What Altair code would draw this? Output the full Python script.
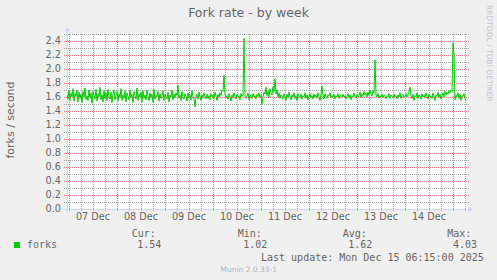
import altair as alt
import pandas as pd

# ---------------- data ----------------
TITLE = "Fork rate - by week"
Y_TITLE = "forks / second"
SIDE_TEXT = "RRDTOOL / TOBI OETIKER"
FOOTER = "Munin 2.0.33-1"
LAST_UPDATE = "Last update: Mon Dec 15 06:15:00 2025"

SERIES = "forks"
STAT_NAMES = ["Cur:", "Min:", "Avg:", "Max:"]
STAT_VALUES = ["1.54", "1.02", "1.62", "4.03"]

DAYS = ["07 Dec", "08 Dec", "09 Dec", "10 Dec", "11 Dec", "12 Dec", "13 Dec", "14 Dec"]
Y_TICKS = [0.0, 0.2, 0.4, 0.6, 0.8, 1.0, 1.2, 1.4, 1.6, 1.8, 2.0, 2.2, 2.4]

# half-hourly samples, first one at 06 Dec 23:00
FORKS = [
    1.63, 1.57, 1.69, 1.55, 1.66, 1.60, 1.72, 1.54, 1.65, 1.61, 1.70, 1.53, 1.67, 1.58, 1.64, 1.52, 1.68, 1.60, 1.73, 1.56,
    1.62, 1.55, 1.70, 1.59, 1.66, 1.51, 1.68, 1.62, 1.57, 1.71, 1.54, 1.65, 1.60, 1.74, 1.56, 1.63, 1.53, 1.69, 1.58, 1.66,
    1.55, 1.71, 1.60, 1.57, 1.67, 1.52, 1.64, 1.70, 1.56, 1.62, 1.68, 1.54, 1.65, 1.59, 1.72, 1.55, 1.63, 1.58, 1.69, 1.53,
    1.66, 1.61, 1.56, 1.70, 1.59, 1.64, 1.52, 1.68, 1.62, 1.57, 1.73, 1.55, 1.64, 1.60, 1.67, 1.53, 1.69, 1.58, 1.63, 1.56,
    1.70, 1.61, 1.55, 1.66, 1.59, 1.64, 1.52, 1.71, 1.57, 1.63, 1.60, 1.68, 1.54, 1.65, 1.58, 1.62, 1.69, 1.55, 1.64, 1.60,
    1.57, 1.67, 1.53, 1.63, 1.60, 1.70, 1.56, 1.64, 1.59, 1.66, 1.62, 1.77, 1.58, 1.63, 1.55, 1.68, 1.60, 1.57, 1.65, 1.61,
    1.54, 1.66, 1.59, 1.63, 1.56, 1.69, 1.60, 1.58, 1.46, 1.62, 1.64, 1.57, 1.67, 1.60, 1.55, 1.63, 1.59, 1.66, 1.61, 1.57,
    1.64, 1.58, 1.62, 1.56, 1.65, 1.60, 1.63, 1.58, 1.67, 1.61, 1.55, 1.64, 1.60, 1.66, 1.62, 1.70, 1.68, 1.91, 1.64, 1.59,
    1.62, 1.57, 1.65, 1.60, 1.54, 1.63, 1.59, 1.66, 1.61, 1.57, 1.64, 1.60, 1.62, 1.56, 1.65, 1.61, 1.63, 2.44, 1.62, 1.58,
    1.60, 1.66, 1.56, 1.63, 1.61, 1.58, 1.65, 1.60, 1.62, 1.57, 1.64, 1.61, 1.66, 1.59, 1.63, 1.49, 1.60, 1.67, 1.64, 1.74,
    1.62, 1.69, 1.59, 1.72, 1.66, 1.63, 1.75, 1.68, 1.86, 1.64, 1.70, 1.60, 1.66, 1.58, 1.63, 1.61, 1.57, 1.65, 1.60, 1.55,
    1.64, 1.59, 1.67, 1.61, 1.56, 1.63, 1.60, 1.66, 1.58, 1.62, 1.55, 1.65, 1.61, 1.59, 1.64, 1.57, 1.62, 1.60, 1.66, 1.58,
    1.63, 1.56, 1.61, 1.65, 1.59, 1.62, 1.57, 1.64, 1.60, 1.63, 1.58, 1.66, 1.61, 1.55, 1.64, 1.76, 1.62, 1.57, 1.65, 1.60,
    1.58, 1.63, 1.61, 1.66, 1.59, 1.62, 1.60, 1.64, 1.57, 1.62, 1.60, 1.65, 1.58, 1.63, 1.61, 1.59, 1.64, 1.60, 1.62, 1.57,
    1.61, 1.65, 1.59, 1.63, 1.56, 1.62, 1.60, 1.66, 1.61, 1.58, 1.64, 1.60, 1.62, 1.67, 1.59, 1.64, 1.61, 1.68, 1.63, 1.66,
    1.60, 1.67, 1.62, 1.70, 1.64, 1.61, 1.69, 1.66, 2.13, 1.63, 1.60, 1.65, 1.58, 1.62, 1.60, 1.64, 1.59, 1.63, 1.61, 1.57,
    1.62, 1.60, 1.65, 1.58, 1.63, 1.61, 1.59, 1.64, 1.60, 1.62, 1.57, 1.63, 1.60, 1.66, 1.58, 1.62, 1.64, 1.59, 1.61, 1.65,
    1.60, 1.63, 1.67, 1.74, 1.62, 1.58, 1.64, 1.55, 1.62, 1.60, 1.66, 1.58, 1.63, 1.61, 1.57, 1.65, 1.60, 1.63, 1.59, 1.66,
    1.61, 1.57, 1.64, 1.60, 1.62, 1.58, 1.66, 1.60, 1.55, 1.63, 1.61, 1.67, 1.59, 1.64, 1.57, 1.62, 1.66, 1.60, 1.68, 1.63,
    1.67, 1.64, 1.69, 1.66, 1.70, 1.68, 2.37, 2.20, 1.56, 1.63, 1.60, 1.66, 1.58, 1.64, 1.55, 1.62, 1.61, 1.65, 1.58, 1.54,
]

# ---------------- styling ----------------
FONT = "DejaVu Sans"
MONO = "DejaVu Sans Mono"
TXT = "#666666"
GREEN = "#00CC00"
AXIS_C = "#CFD6F8"
MINOR_C = "#A8A8A8"
MAJOR_C = "#E38282"

W, H = 400, 175

hours = [-1 + 0.5 * j for j in range(len(FORKS))]  # hours since 07 Dec 00:00
df = pd.DataFrame({"h": hours, "v": FORKS})

XS = alt.Scale(domain=[-1, 199], nice=False, zero=False)
YS = alt.Scale(domain=[0, 2.5], nice=False, zero=True)

minor_v = pd.DataFrame({"h": [h for h in range(6, 199, 6) if h % 24]})
major_v = pd.DataFrame({"h": list(range(0, 199, 24))})
minor_h = pd.DataFrame({"v": [round(0.1 * k, 1) for k in range(1, 26, 2)]})
major_h = pd.DataFrame({"v": Y_TICKS})

one = pd.DataFrame({"a": [0]})


def vrules(d, color):
    return alt.Chart(d).mark_rule(
        color=color, strokeDash=[1, 1], strokeWidth=1, xOffset=0.5
    ).encode(x=alt.X("h:Q", scale=XS, axis=None), y=alt.value(0), y2=alt.value(H + 3))


def hrules(d, color):
    return alt.Chart(d).mark_rule(
        color=color, strokeDash=[1, 1], strokeWidth=1, yOffset=0.5
    ).encode(y=alt.Y("v:Q", scale=YS, axis=None), x=alt.value(-3), x2=alt.value(W + 2))


def label(text, x, y, size=10, color=TXT, font=FONT, align="left", angle=0):
    return alt.Chart(pd.DataFrame({"t": [text]})).mark_text(
        align=align, baseline="middle", font=font, fontSize=size, color=color, angle=angle
    ).encode(x=alt.value(x), y=alt.value(y), text="t:N")


line = alt.Chart(df).mark_line(color=GREEN, strokeWidth=1, clip=True).encode(
    x=alt.X("h:Q", scale=XS, axis=None), y=alt.Y("v:Q", scale=YS, axis=None)
)

x_axis = alt.Chart(one).mark_rule(color=AXIS_C, strokeWidth=1, yOffset=0.5).encode(
    x=alt.value(-3), x2=alt.value(W + 3), y=alt.value(H)
)
y_axis = alt.Chart(one).mark_rule(color=AXIS_C, strokeWidth=1, xOffset=0.5).encode(
    x=alt.value(0), y=alt.value(-4), y2=alt.value(H + 3)
)
x_arrow = alt.Chart(one).mark_point(shape="triangle-right", filled=True, size=28, color=AXIS_C, opacity=1).encode(
    x=alt.value(W + 4), y=alt.value(H + 0.5)
)
y_arrow = alt.Chart(one).mark_point(shape="triangle-up", filled=True, size=28, color=AXIS_C, opacity=1).encode(
    x=alt.value(0.5), y=alt.value(-5)
)

ylab_df = pd.DataFrame({"v": Y_TICKS, "lab": [f"{t:.1f}" for t in Y_TICKS]})
ylabels = alt.Chart(ylab_df).mark_text(
    align="right", baseline="middle", font=FONT, fontSize=9.7, color=TXT
).encode(y=alt.Y("v:Q", scale=YS, axis=None), x=alt.value(-6), text="lab:N")

xlab_df = pd.DataFrame({"h": [12 + 24 * i for i in range(len(DAYS))], "lab": DAYS})
xlabels = alt.Chart(xlab_df).mark_text(
    align="center", baseline="middle", font=FONT, fontSize=9.7, color=TXT
).encode(x=alt.X("h:Q", scale=XS, axis=None), y=alt.value(H + 8), text="lab:N")

layers = [
    vrules(minor_v, MINOR_C), hrules(minor_h, MINOR_C),
    vrules(major_v, MAJOR_C), hrules(major_h, MAJOR_C),
    x_axis, y_axis, x_arrow, y_arrow,
    line, ylabels, xlabels,
    label(TITLE, 181.5, -21, size=12.5, align="center"),
    label(Y_TITLE, -56, 86, size=11, align="center", angle=270),
    label(SIDE_TEXT, 422, -29, size=7.5, color="#C4C4C4", angle=90),
    label(FOOTER, 181.7, 235.7, size=7.5, color="#B4B4B4", align="center"),
    label(LAST_UPDATE, 194, 223.7, font=MONO),
    label(SERIES, -40, 211.3, font=MONO),
]

legend_box = alt.Chart(one).mark_rect(color=GREEN).encode(
    x=alt.value(-53), x2=alt.value(-47), y=alt.value(208), y2=alt.value(214)
)
layers.append(legend_box)

stat_x = [64.7, 170.7, 275.7, 380.3]
for i, (n, v) in enumerate(zip(STAT_NAMES, STAT_VALUES)):
    layers.append(label(n, stat_x[i], 199.7, font=MONO))
    layers.append(label(v, stat_x[i] + 5.6, 211.3, font=MONO))

chart = alt.layer(*layers).properties(
    width=W, height=H,
    autosize=alt.AutoSizeParams(type="none"),
    padding={"left": 67, "top": 34, "right": 30, "bottom": 71},
    background="#F0F0F0",
).configure_view(stroke=None, fill="white")

chart.save("out.html", embed_options={"renderer": "svg", "actions": False})
